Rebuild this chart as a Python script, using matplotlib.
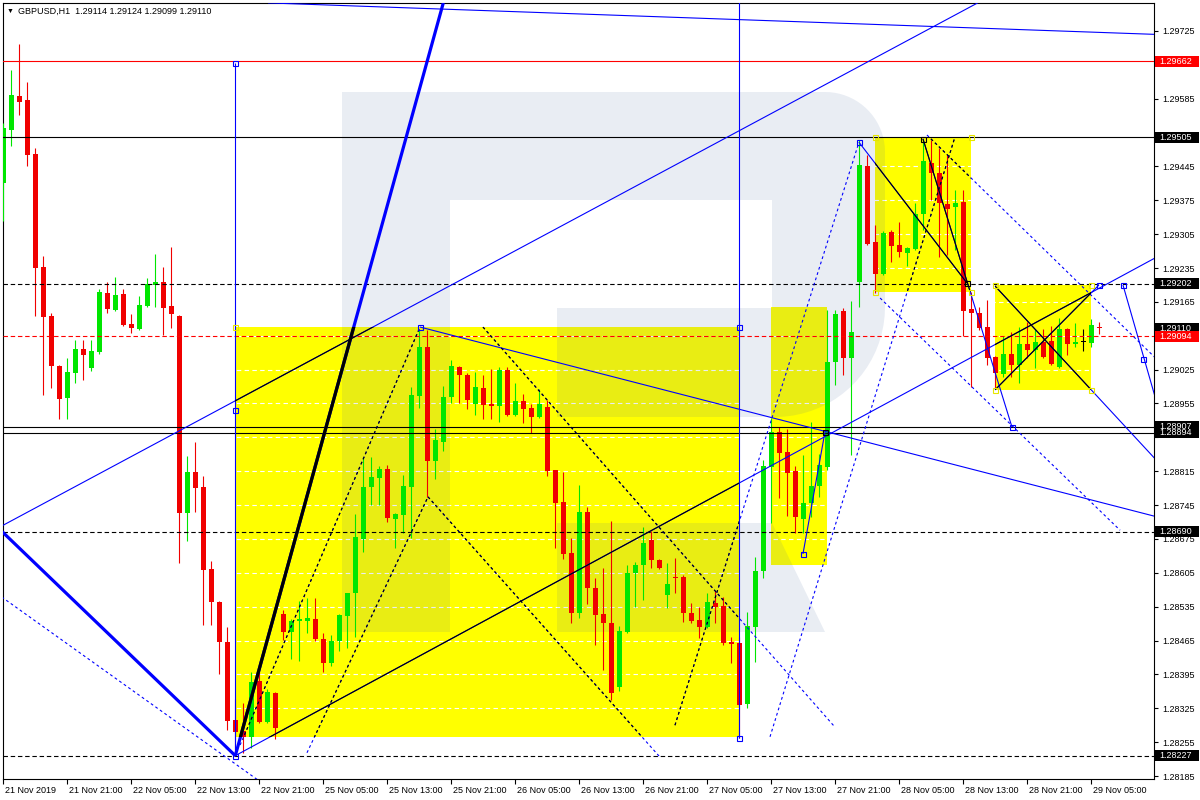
import matplotlib
matplotlib.use('Agg')
import matplotlib.pyplot as plt
from matplotlib.patches import Rectangle, Polygon
from matplotlib.transforms import Affine2D, blended_transform_factory, ScaledTranslation
import numpy as np

plt.rcParams['font.family'] = ['Liberation Sans', 'DejaVu Sans']

# ---------------- data (GBPUSD H1, bar index 0 = 21 Nov 2019 13:00) ----------------
opens = [1.29411, 1.29520, 1.29591, 1.29582, 1.29471, 1.29237, 1.29136, 1.29032, 1.28966, 1.29018,
         1.29068, 1.29028, 1.29061, 1.29183, 1.29148, 1.29181, 1.29119, 1.29109, 1.29157, 1.29200,
         1.29206, 1.29157, 1.29136, 1.28729, 1.28813, 1.28782, 1.28613, 1.28545, 1.28462, 1.28301,
         1.28278, 1.28266, 1.28381, 1.28297, 1.28357, 1.28520, 1.28483, 1.28505, 1.28505, 1.28510,
         1.28468, 1.28419, 1.28464, 1.28516, 1.28563, 1.28675, 1.28782, 1.28801, 1.28820, 1.28716,
         1.28724, 1.28782, 1.28971, 1.29072, 1.28836, 1.28875, 1.28968, 1.29030, 1.29014, 1.28954,
         1.28987, 1.28954, 1.28950, 1.29024, 1.28931, 1.28960, 1.28946, 1.28927, 1.28948, 1.28817,
         1.28751, 1.28646, 1.28522, 1.28731, 1.28574, 1.28520, 1.28501, 1.28369, 1.28483, 1.28605,
         1.28621, 1.28673, 1.28631, 1.28559, 1.28596, 1.28596, 1.28522, 1.28507, 1.28493, 1.28543,
         1.28536, 1.28462, 1.28460, 1.28334, 1.28493, 1.28609, 1.28824, 1.28896, 1.28855, 1.28815,
         1.28716, 1.28749, 1.28784, 1.28824, 1.29041, 1.29146, 1.29049, 1.29206, 1.29446, 1.29289,
         1.29223, 1.29309, 1.29283, 1.29266, 1.29274, 1.29347, 1.29452, 1.29431, 1.29367, 1.29361,
         1.29372, 1.29150, 1.29142, 1.29113, 1.29051, 1.29016, 1.29057, 1.29035, 1.29078, 1.29066,
         1.29082, 1.29084, 1.29030, 1.29109, 1.29078, 1.29082, 1.29080, 1.29114]
highs = [1.29535, 1.29644, 1.29698, 1.29620, 1.29483, 1.29260, 1.29142, 1.29034, 1.29049, 1.29086,
         1.29086, 1.29086, 1.29192, 1.29206, 1.29216, 1.29192, 1.29140, 1.29177, 1.29214, 1.29264,
         1.29237, 1.29278, 1.29138, 1.28846, 1.28875, 1.28805, 1.28629, 1.28547, 1.28493, 1.28345,
         1.28336, 1.28400, 1.28400, 1.28365, 1.28359, 1.28528, 1.28510, 1.28547, 1.28553, 1.28553,
         1.28481, 1.28477, 1.28520, 1.28563, 1.28727, 1.28844, 1.28844, 1.28825, 1.28827, 1.28729,
         1.28807, 1.28989, 1.29107, 1.29107, 1.28902, 1.28991, 1.29045, 1.29032, 1.29018, 1.29020,
         1.29014, 1.29026, 1.29030, 1.29030, 1.28997, 1.28975, 1.28954, 1.28985, 1.28962, 1.28818,
         1.28813, 1.28677, 1.28786, 1.28741, 1.28594, 1.28615, 1.28712, 1.28495, 1.28621, 1.28627,
         1.28700, 1.28691, 1.28634, 1.28625, 1.28636, 1.28600, 1.28543, 1.28534, 1.28563, 1.28567,
         1.28555, 1.28472, 1.28472, 1.28524, 1.28638, 1.28838, 1.28925, 1.28906, 1.28902, 1.28826,
         1.28849, 1.28917, 1.28851, 1.29148, 1.29148, 1.29152, 1.29167, 1.29500, 1.29469, 1.29324,
         1.29311, 1.29314, 1.29330, 1.29278, 1.29369, 1.29502, 1.29500, 1.29483, 1.29469, 1.29396,
         1.29396, 1.29185, 1.29154, 1.29169, 1.29053, 1.29095, 1.29103, 1.29113, 1.29123, 1.29109,
         1.29109, 1.29115, 1.29132, 1.29111, 1.29121, 1.29109, 1.29130, 1.29124]
lows = [1.29332, 1.29487, 1.29551, 1.29446, 1.29136, 1.28973, 1.28987, 1.28923, 1.28923, 1.28997,
        1.29004, 1.29022, 1.29058, 1.29142, 1.29146, 1.29115, 1.29100, 1.29107, 1.29155, 1.29154,
        1.29097, 1.29111, 1.28625, 1.28671, 1.28731, 1.28497, 1.28497, 1.28395, 1.28280, 1.28227,
        1.28233, 1.28243, 1.28295, 1.28295, 1.28261, 1.28466, 1.28427, 1.28423, 1.28481, 1.28464,
        1.28400, 1.28412, 1.28443, 1.28450, 1.28472, 1.28648, 1.28745, 1.28745, 1.28710, 1.28656,
        1.28687, 1.28677, 1.28946, 1.28762, 1.28799, 1.28857, 1.28956, 1.28956, 1.28944, 1.28931,
        1.28923, 1.28923, 1.28917, 1.28929, 1.28929, 1.28915, 1.28894, 1.28925, 1.28805, 1.28656,
        1.28633, 1.28501, 1.28512, 1.28541, 1.28456, 1.28404, 1.28342, 1.28361, 1.28481, 1.28534,
        1.28549, 1.28615, 1.28613, 1.28532, 1.28563, 1.28503, 1.28501, 1.28470, 1.28491, 1.28501,
        1.28456, 1.28419, 1.28264, 1.28326, 1.28421, 1.28594, 1.28708, 1.28760, 1.28723, 1.28687,
        1.28687, 1.28720, 1.28762, 1.28817, 1.28993, 1.29014, 1.28849, 1.29154, 1.29283, 1.29183,
        1.29221, 1.29247, 1.29258, 1.29239, 1.29272, 1.29314, 1.29376, 1.29258, 1.29262, 1.29272,
        1.29095, 1.28989, 1.29107, 1.29035, 1.28987, 1.29010, 1.29010, 1.28997, 1.29049, 1.29028,
        1.29049, 1.29035, 1.29028, 1.29055, 1.29072, 1.29064, 1.29072, 1.29099]
closes = [1.29524, 1.29593, 1.29578, 1.29469, 1.29235, 1.29134, 1.29032, 1.28964, 1.29020, 1.29068,
          1.29055, 1.29064, 1.29185, 1.29150, 1.29179, 1.29117, 1.29111, 1.29159, 1.29202, 1.29206,
          1.29152, 1.29140, 1.28729, 1.28813, 1.28780, 1.28611, 1.28545, 1.28462, 1.28299, 1.28276,
          1.28266, 1.28379, 1.28297, 1.28359, 1.28284, 1.28483, 1.28505, 1.28510, 1.28512, 1.28468,
          1.28419, 1.28464, 1.28518, 1.28563, 1.28679, 1.28782, 1.28803, 1.28820, 1.28718, 1.28727,
          1.28784, 1.28973, 1.29072, 1.28836, 1.28880, 1.28968, 1.29032, 1.29014, 1.28962, 1.28989,
          1.28952, 1.28950, 1.29024, 1.28931, 1.28960, 1.28944, 1.28927, 1.28954, 1.28815, 1.28749,
          1.28644, 1.28522, 1.28731, 1.28574, 1.28518, 1.28501, 1.28357, 1.28485, 1.28605, 1.28621,
          1.28667, 1.28631, 1.28615, 1.28582, 1.28594, 1.28522, 1.28505, 1.28493, 1.28545, 1.28534,
          1.28460, 1.28458, 1.28332, 1.28495, 1.28609, 1.28826, 1.28896, 1.28853, 1.28811, 1.28720,
          1.28749, 1.28784, 1.28828, 1.29041, 1.29140, 1.29049, 1.29103, 1.29448, 1.29285, 1.29223,
          1.29307, 1.29280, 1.29268, 1.29276, 1.29347, 1.29456, 1.29431, 1.29369, 1.29357, 1.29369,
          1.29146, 1.29142, 1.29111, 1.29049, 1.29018, 1.29057, 1.29035, 1.29078, 1.29066, 1.29082,
          1.29051, 1.29037, 1.29109, 1.29078, 1.29082, 1.29082, 1.29117, 1.29110]

xtick_bars = [0, 8, 16, 24, 32, 40, 48, 56, 64, 72, 80, 88, 96, 104, 112, 120, 128, 136]
xtick_labels = ['21 Nov 2019', '21 Nov 21:00', '22 Nov 05:00', '22 Nov 13:00', '22 Nov 21:00',
                '25 Nov 05:00', '25 Nov 13:00', '25 Nov 21:00', '26 Nov 05:00', '26 Nov 13:00',
                '26 Nov 21:00', '27 Nov 05:00', '27 Nov 13:00', '27 Nov 21:00', '28 Nov 05:00',
                '28 Nov 13:00', '28 Nov 21:00', '29 Nov 05:00']
price_ticks = [1.28185, 1.28255, 1.28325, 1.28395, 1.28465, 1.28535, 1.28605, 1.28675, 1.28745,
               1.28815, 1.28885, 1.28955, 1.29025, 1.29095, 1.29165, 1.29235, 1.29305, 1.29375,
               1.29445, 1.29515, 1.29585, 1.29655, 1.29725]
# tick labels that sit behind a price tag in the reference
hidden_ticks = [1.28885, 1.29095, 1.29515, 1.29655]

# horizontal levels
level_prices = [1.29662, 1.29505, 1.29202, 1.29094, 1.28907, 1.28894, 1.28690, 1.28227]
level_colors = ['#FF0000', 'black', 'black', '#FF0000', 'black', 'black', 'black', 'black']
level_dashed = [False, False, True, True, False, False, True, True]

# right-side price labels
tag_prices = [1.29662, 1.29505, 1.29202, 1.29110, 1.29094, 1.28907, 1.28894, 1.28690, 1.28227]
tag_colors = ['#FF0000', 'black', 'black', 'black', '#FF0000', 'black', 'black', 'black', 'black']

# rectangles (bar index / price)
rect_x0 = [29.0, 95.96, 108.96, 123.96]
rect_x1 = [91.96, 102.96, 120.96, 135.96]
rect_lo = [1.28266, 1.28621, 1.29185, 1.28983]
rect_hi = [1.29113, 1.29154, 1.29506, 1.29200]

# trend lines
seg_x0 = [-0.2, -0.2, -0.4, 29.0, 29.0, 33.1, 52.09, 29.0, 91.96, 99.96, 83.96, 95.84, 115.46,
          109.6, 37.96, 53.09, 29.6, 59.96, 106.96, 114.96, 123.96, 123.96, 139.96]
seg_y0 = [1.28691, 1.28555, 1.28700, 1.28227, 1.28227, 1.29783, 1.29113, 1.29659, 1.29800, 1.28644,
          1.28290, 1.28266, 1.29510, 1.29173, 1.28233, 1.28762, 1.28249, 1.29113, 1.29495, 1.29502,
          1.29198, 1.28983, 1.29200]
seg_x1 = [29.0, 31.8, 121.8, 55.0, 144.0, 143.9, 143.9, 29.0, 91.96, 102.71, 106.96, 118.96, 143.9,
          139.6, 53.09, 82.09, 52.09, 103.96, 120.46, 126.09, 143.9, 136.96, 143.9]
seg_y1 = [1.28227, 1.28177, 1.29783, 1.29783, 1.29256, 1.29718, 1.28722, 1.28227, 1.28264, 1.28896,
          1.29495, 1.29506, 1.29051, 1.28693, 1.28762, 1.28224, 1.29113, 1.28286, 1.29204, 1.28906,
          1.28842, 1.29200, 1.28973]
seg_kind = ['thick', 'dot', 'thin', 'thick', 'thin', 'thin', 'thin', 'thin', 'thin', 'thin',
            'dot', 'dot', 'dot', 'dot', 'dot', 'dot', 'dot', 'dot', 'thin', 'thin',
            'thin', 'thin', 'thin']
seg_black_in = [[], [], [0], [0], [0, 3], [], [], [], [], [], [0], [2], [2], [], [0], [0], [0], [0],
                [2], [2], [3], [3], []]

# anchor points of the drawings
mark_bars = [29.0, 29.0, 52.09, 91.96, 91.96, 29.0, 99.96, 102.71, 106.96, 114.96, 120.46, 126.09,
             136.96, 139.96, 142.46]
mark_prices = [1.29659, 1.28942, 1.29113, 1.29113, 1.28264, 1.28227, 1.28644, 1.28896, 1.29495,
               1.29502, 1.29204, 1.28906, 1.29200, 1.29200, 1.29047]
mark_colors = ['#0000FF', '#0000FF', '#0000FF', '#0000FF', '#0000FF', '#0000FF', '#0000FF', 'black',
               '#0000FF', 'black', 'black', '#0000FF', '#0000FF', '#0000FF', '#0000FF']

# ---------------- figure ----------------
W, H = 1200, 800
fig = plt.figure(figsize=(12, 8), dpi=100)
fig.patch.set_facecolor('white')
ax = fig.add_axes([3 / W, 1 - 779 / H, 1151 / W, 776 / H])
ax.set_facecolor('white')
ax.set_xlim(-0.0375, 143.84)
ax.set_ylim(1.281788, 1.297828)

BLUE = '#0000FF'
YELLOW = '#FFFF00'
px_to_axes = Affine2D().translate(-3, -779).scale(1 / 1151, -1 / 776) + ax.transAxes

# yellow rectangles
for x0, x1, lo, hi in zip(rect_x0, rect_x1, rect_lo, rect_hi):
    ax.add_patch(Rectangle((x0, lo), x1 - x0, hi - lo, facecolor=YELLOW, edgecolor='none', zorder=1))

# grid (white dashed - only visible over yellow)
for t in price_ticks:
    ax.axhline(t, color='white', lw=0.8, ls=(0, (4, 3)), zorder=1.5)

# watermark logo (pixel geometry)
th = np.linspace(0, np.pi / 2, 20)
outline = [(342, 92), (825, 92)]
outline += [(825 + 60 * np.sin(a), 152 - 60 * np.cos(a)) for a in th]
outline += [(885, 307)]
outline += [(775 + 110 * np.cos(a), 307 + 110 * np.sin(a)) for a in th]
outline += [(557, 417), (557, 308), (772, 308), (772, 200), (450, 200), (450, 632), (342, 632)]
logo_col = (74 / 255, 107 / 255, 164 / 255)
ax.add_patch(Polygon(outline, closed=True, transform=px_to_axes, facecolor=logo_col,
                     edgecolor='none', alpha=0.12, zorder=2))
ax.add_patch(Polygon([(557, 523), (772, 523), (825, 632), (557, 632)], closed=True,
                     transform=px_to_axes, facecolor=logo_col, edgecolor='none', alpha=0.12, zorder=2))

# candles
bars = np.arange(len(opens))
o = np.array(opens); h = np.array(highs); l = np.array(lows); c = np.array(closes)
cols = []
for oo, cc in zip(o, c):
    if cc > oo:
        cols.append('#00E600')
    elif cc < oo:
        cols.append('#F00000')
    else:
        cols.append('black')
ax.vlines(bars, l, h, colors=cols, lw=0.8, zorder=3)
body_lo = np.minimum(o, c)
body_h = np.maximum(np.abs(c - o), 0.000022)
ax.bar(bars, body_h, bottom=body_lo, width=0.62, color=cols, linewidth=0, zorder=3.1)

# horizontal levels
for p, col, dashed in zip(level_prices, level_colors, level_dashed):
    ax.axhline(p, color=col, lw=0.8, ls=(0, (4, 2.5)) if dashed else '-', zorder=3.5)

# trend lines
for k in range(len(seg_x0)):
    kind = seg_kind[k]
    lw = 2.3 if kind == 'thick' else 0.8
    ls = (0, (2.5, 2.5)) if kind == 'dot' else '-'
    xs = [seg_x0[k], seg_x1[k]]
    ys = [seg_y0[k], seg_y1[k]]
    ax.plot(xs, ys, color=BLUE, lw=lw, ls=ls, zorder=4, solid_capstyle='butt')
    for r in seg_black_in[k]:
        ln, = ax.plot(xs, ys, color='black', lw=lw, ls=ls, zorder=4.1, solid_capstyle='butt')
        clip = Rectangle((rect_x0[r], rect_lo[r]), rect_x1[r] - rect_x0[r], rect_hi[r] - rect_lo[r],
                         transform=ax.transData)
        ln.set_clip_path(clip)

# anchor markers
for bx, py, mc in zip(mark_bars, mark_prices, mark_colors):
    ax.plot([bx], [py], marker='s', ms=3.6, mfc='none', mec=mc, mew=0.8, ls='none', zorder=5)
# rectangle handles
handle_x = [rect_x0[0], rect_x0[2], rect_x1[2], rect_x0[2], rect_x1[2],
            rect_x0[3], rect_x1[3], rect_x0[3], rect_x1[3]]
handle_y = [rect_hi[0], rect_hi[2], rect_hi[2], rect_lo[2], rect_lo[2],
            rect_hi[3], rect_hi[3], rect_lo[3], rect_lo[3]]
ax.plot(handle_x, handle_y, marker='s', ms=3.6, mfc='none', mec='#E6E600', mew=0.8, ls='none', zorder=5)

# axes styling
for s in ax.spines.values():
    s.set_color('black')
    s.set_linewidth(0.8)
ax.yaxis.tick_right()
ax.set_yticks(price_ticks)
ax.set_yticklabels(['' if t in hidden_ticks else f'{t:.5f}' for t in price_ticks])
ax.tick_params(axis='y', direction='out', length=3, width=0.8, pad=3, labelsize=6.5, colors='black')
ax.set_xticks(xtick_bars)
ax.set_xticklabels(xtick_labels, ha='left')
ax.tick_params(axis='x', direction='out', length=3.5, width=0.8, pad=1.5, labelsize=6.5, colors='black')
off = ScaledTranslation(2 / 100, 0, fig.dpi_scale_trans)
for lbl in ax.get_xticklabels():
    lbl.set_transform(lbl.get_transform() + off)

# price tags on the right
blend = blended_transform_factory(ax.transAxes, ax.transData)
tag_h = 11 * (1.297828 - 1.281788) / 776
for p, col in zip(tag_prices, tag_colors):
    ax.add_patch(Rectangle(((1155 - 3) / 1151, p - tag_h / 2), 44 / 1151, tag_h, transform=blend,
                           facecolor=col, edgecolor='none', clip_on=False, zorder=10))
    ax.text((1159 - 3) / 1151, p, f'{p:.5f}', transform=blend, color='white', fontsize=6.5,
            va='center', ha='left', clip_on=False, zorder=11)

# title
fig.text(7 / W, 1 - 11 / H, '\u25BC', fontsize=5, va='center', ha='left', color='black')
fig.text(18 / W, 1 - 11 / H, 'GBPUSD,H1  1.29114 1.29124 1.29099 1.29110', fontsize=6.5,
         va='center', ha='left', color='black')

fig.savefig('out.png', dpi=100)
